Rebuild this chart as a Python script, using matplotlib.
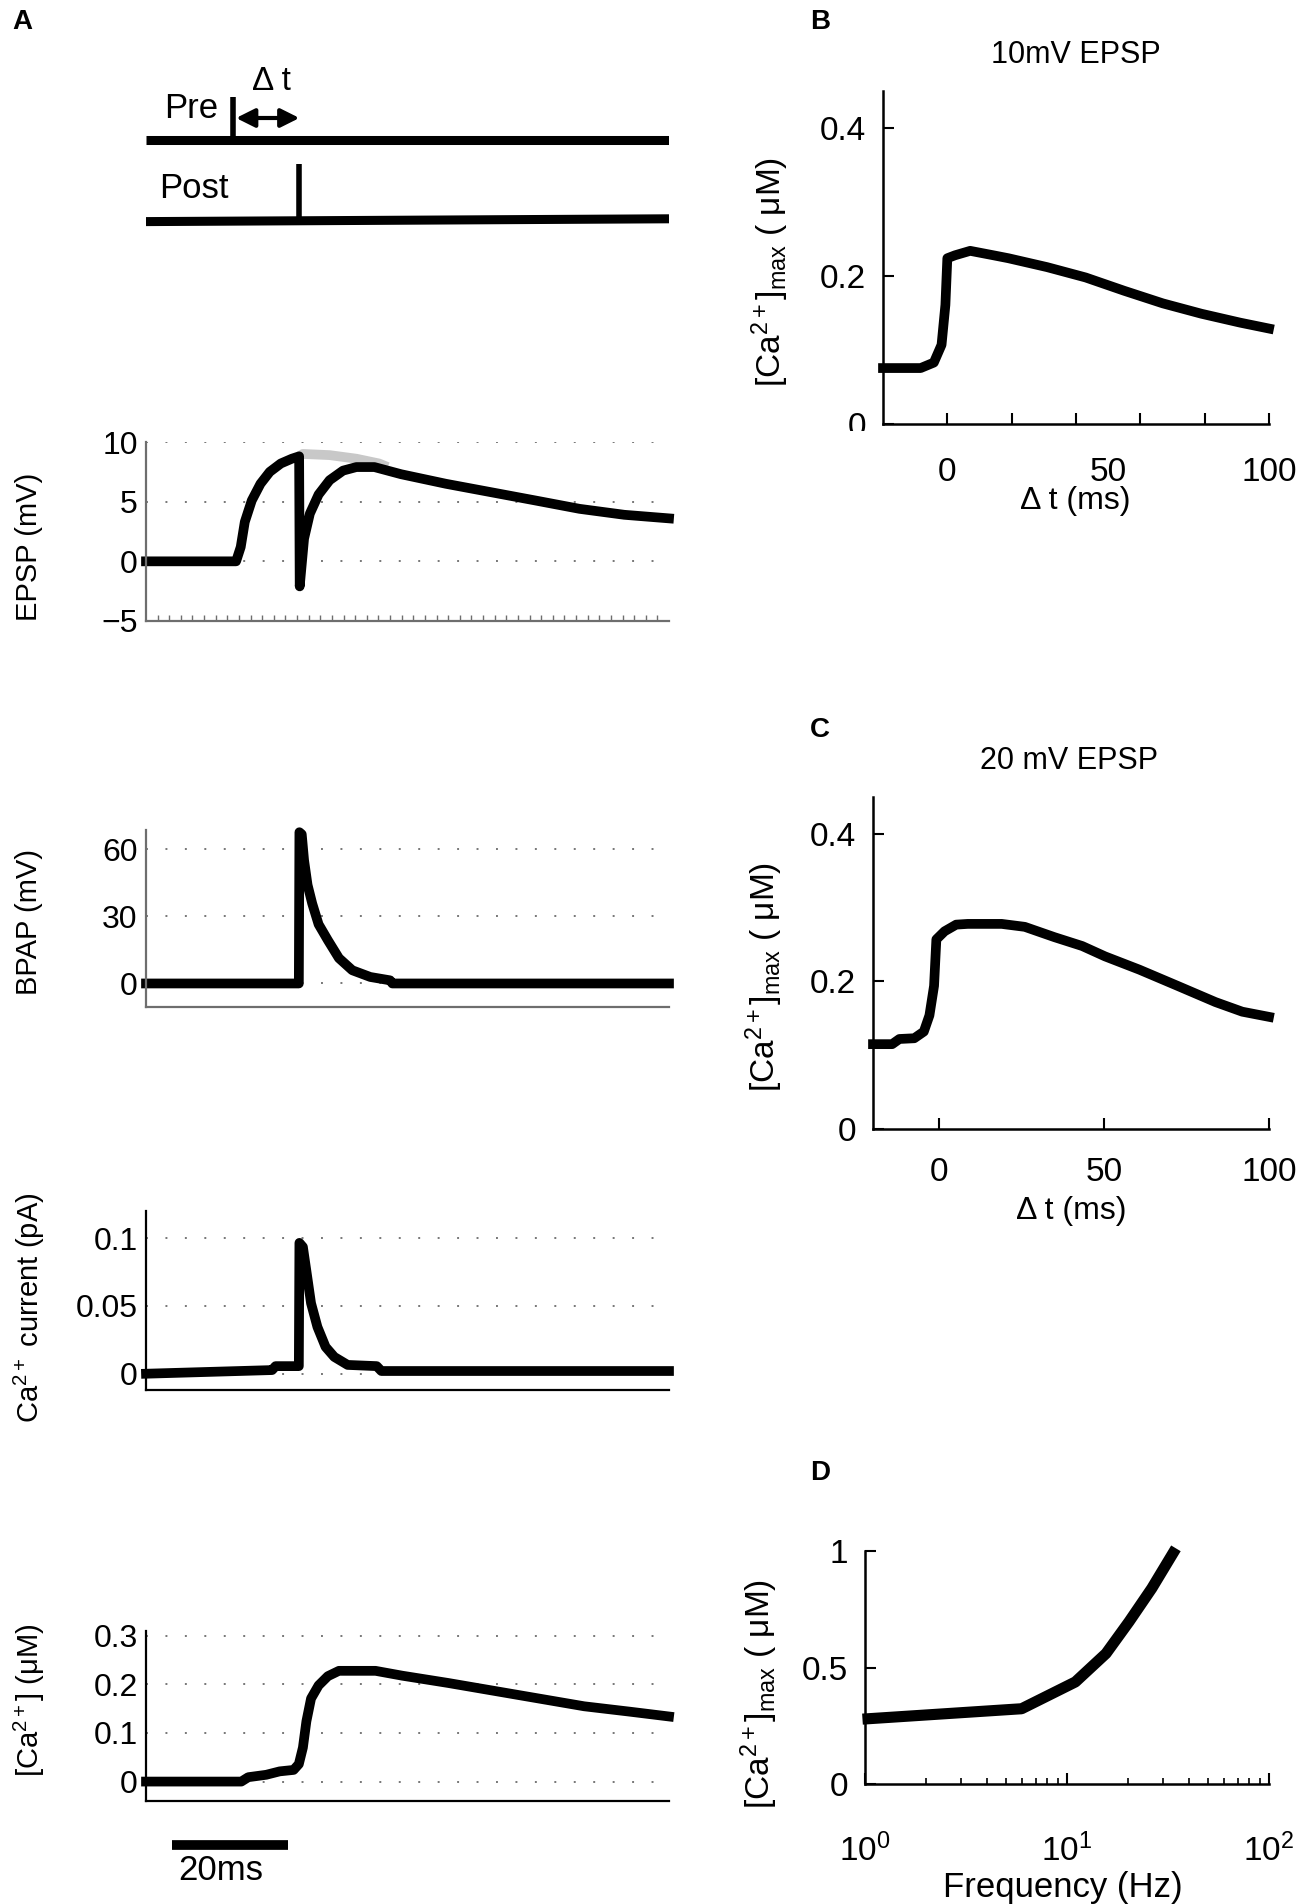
import matplotlib
matplotlib.use('Agg')
import matplotlib.pyplot as plt
from matplotlib.ticker import FixedLocator, FixedFormatter, NullFormatter, LogLocator
from matplotlib.transforms import Bbox, TransformedBbox

plt.rcParams['font.family'] = ['Liberation Sans', 'DejaVu Sans']
plt.rcParams['mathtext.fontset'] = 'custom'
plt.rcParams['mathtext.rm'] = 'Liberation Sans'
plt.rcParams['mathtext.it'] = 'Liberation Sans:italic'
plt.rcParams['mathtext.bf'] = 'Liberation Sans:bold'

# ---- data ----
# panel A: spike times (ms)
pre_t = 15.0
post_t = 26.4

# EPSP with BPAP (black) and without (grey)
epsp_t = [0, 15.5, 16.3, 17.0, 18.2, 19.7, 21.3, 23.2, 25.1, 26.35, 26.45, 27.2, 28.2,
          29.7, 31.6, 33.9, 36.2, 39.3, 43.9, 51.6, 59.3, 67.0, 74.6, 82.3, 90]
epsp_v = [0, 0, 1.2, 3.3, 5.1, 6.5, 7.5, 8.2, 8.6, 8.8, -2.1, 1.9, 4.0,
          5.6, 6.8, 7.6, 7.9, 7.9, 7.3, 6.5, 5.8, 5.1, 4.4, 3.9, 3.6]
epsp_nobp_t = [26.35, 27.0, 31.6, 36.2, 40.1, 41.6]
epsp_nobp_v = [8.8, 9.0, 8.9, 8.6, 8.2, 7.9]

bpap_t = [0, 26.3, 26.4, 26.8, 27.2, 27.8, 28.6, 29.7, 31.3, 33.2, 35.5, 38.6, 42.0, 42.4, 90]
bpap_v = [0, 0, 67.5, 66.6, 55, 44, 35.7, 26.4, 19.3, 11.3, 5.9, 2.9, 1.4, 0, 0]

icur_t = [0, 21.7, 22.3, 26.3, 26.4, 27.0, 27.6, 28.4, 29.5, 30.9, 32.4, 34.7, 39.7, 40.5, 90]
icur_v = [0, 0.0027, 0.0056, 0.0056, 0.0965, 0.0935, 0.0758, 0.052, 0.0345, 0.0198,
          0.0124, 0.0065, 0.0056, 0.002, 0.002]

ca_t = [0, 16.4, 17.6, 20.7, 23.0, 25.4, 26.3, 27.0, 27.6, 28.4, 29.7, 31.3, 33.2,
        39.5, 44.1, 52.0, 59.8, 67.6, 75.4, 83.2, 90]
ca_v = [0, 0, 0.009, 0.014, 0.021, 0.024, 0.036, 0.070, 0.124, 0.171, 0.198, 0.217, 0.228,
        0.228, 0.218, 0.203, 0.187, 0.171, 0.155, 0.144, 0.134]

# panel B: 10 mV EPSP
b_dt = [-20, -8.3, -4.2, -1.8, -0.6, 0, 2.4, 7.1, 14.3, 19, 31, 43, 55, 67, 79, 91, 100]
b_ca = [0.0756, 0.0756, 0.083, 0.107, 0.161, 0.224, 0.228, 0.234, 0.228, 0.224,
        0.212, 0.198, 0.180, 0.163, 0.149, 0.137, 0.129]

# panel C: 20 mV EPSP
c_dt = [-20, -14.2, -12, -7.5, -4.6, -2.9, -1.5, -0.8, 1.7, 5.2, 8.7, 19, 26, 35,
        43.4, 50.3, 60.7, 72.3, 83.8, 91.9, 100]
c_ca = [0.115, 0.115, 0.122, 0.123, 0.132, 0.154, 0.194, 0.257, 0.268, 0.277, 0.278,
        0.278, 0.274, 0.260, 0.248, 0.234, 0.216, 0.194, 0.172, 0.159, 0.152]

# panel D: frequency dependence
d_freq = [1.035, 5.96, 11.0, 15.6, 20.3, 26.3, 33.5]
d_ca = [0.280, 0.323, 0.438, 0.560, 0.697, 0.840, 0.991]

W, H = 1299, 1904
fig = plt.figure(figsize=(W / 100, H / 100), dpi=100)


def add_ax(x0, y0, x1, y1):
    # box given in pixels, origin top-left
    return fig.add_axes([x0 / W, 1 - y1 / H, (x1 - x0) / W, (y1 - y0) / H])


def ftext(x, y, s, **kw):
    return fig.text(x / W, 1 - y / H, s, **kw)


LW = 7
TICKFS = 23
RFS = 24
LABFS = 21
GREY_SPINE = '#6e6e6e'


def trace_axes(box, ylim, yticks, ylabels, spine_col):
    ax = add_ax(*box)
    ax.set_xlim(0, 90)
    ax.set_ylim(*ylim)
    for s in ['top', 'right']:
        ax.spines[s].set_visible(False)
    for s in ['left', 'bottom']:
        ax.spines[s].set_color(spine_col)
        ax.spines[s].set_linewidth(1.6)
    ax.set_yticks(yticks)
    ax.set_yticklabels(ylabels)
    ax.set_xticks([])
    ax.tick_params(axis='y', length=0, pad=6, labelsize=TICKFS)
    ax.yaxis.grid(True, linestyle=(0, (1, 9)), color='#777777', lw=1.4)
    ax.set_axisbelow(True)
    return ax


# ---- A: stimulation protocol ----
ax_t = add_ax(146, 90, 669, 230)
ax_t.set_xlim(0, 90)
ax_t.set_ylim(0, 1)
ax_t.axis('off')
ax_t.plot([0, 90], [0.643, 0.643], color='k', lw=6.5, solid_capstyle='butt')
ax_t.plot([pre_t, pre_t], [0.643, 0.95], color='k', lw=4, solid_capstyle='butt')
ax_t.plot([0, 90], [0.06, 0.08], color='k', lw=6.5, solid_capstyle='butt')
ax_t.plot([post_t, post_t], [0.07, 0.47], color='k', lw=4, solid_capstyle='butt')
ax_t.annotate('', xy=(post_t, 0.80), xytext=(pre_t + 0.5, 0.80),
              arrowprops=dict(arrowstyle='<|-|>', color='k', lw=3, mutation_scale=28,
                              shrinkA=0, shrinkB=0))
ax_t.text(7.7, 0.87, 'Pre', fontsize=25, ha='center', va='center')
ax_t.text(21.5, 1.06, 'Δ t', fontsize=24, ha='center', va='center', clip_on=False)
ax_t.text(8.3, 0.30, 'Post', fontsize=25, ha='center', va='center')

# EPSP
ax1 = trace_axes((146, 442, 669, 621), (-5, 10), [-5, 0, 5, 10],
                 ['\u22125', '0', '5', '10'], GREY_SPINE)
ax1.xaxis.set_minor_locator(FixedLocator(list(range(2, 90, 2))))
ax1.tick_params(axis='x', which='minor', direction='in', length=4, width=1, color=GREY_SPINE)
ax1.plot(epsp_nobp_t, epsp_nobp_v, color='#c8c8c8', lw=LW, solid_capstyle='butt')
ax1.plot(epsp_t, epsp_v, color='k', lw=LW, clip_on=False)

# BPAP
ax2 = trace_axes((146, 830, 669, 1007), (-10.5, 68.5), [0, 30, 60], ['0', '30', '60'], GREY_SPINE)
ax2.plot(bpap_t, bpap_v, color='k', lw=LW, clip_on=False)

# Ca current
ax3 = trace_axes((146, 1211, 669, 1390), (-0.012, 0.12), [0, 0.05, 0.1],
                 ['0', '0.05', '0.1'], 'k')
ax3.plot(icur_t, icur_v, color='k', lw=LW, clip_on=False)

# Ca concentration
ax4 = trace_axes((146, 1631, 669, 1801), (-0.04, 0.31), [0, 0.1, 0.2, 0.3],
                 ['0', '0.1', '0.2', '0.3'], 'k')
ax4.plot(ca_t, ca_v, color='k', lw=LW, clip_on=False)
# 20 ms scale bar
ax4.plot([4.5, 24.5], [-0.26, -0.26], color='k', lw=7, solid_capstyle='butt',
         transform=ax4.get_xaxis_transform(), clip_on=False)
ax4.text(12.9, -0.41, '20ms', fontsize=25, ha='center', va='center',
         transform=ax4.get_xaxis_transform())

ftext(29, 547, 'EPSP (mV)', rotation=90, ha='center', va='center', fontsize=LABFS)
ftext(29, 922, 'BPAP (mV)', rotation=90, ha='center', va='center', fontsize=LABFS)
ftext(29, 1308, 'Ca$^{2+}$ current (pA)', rotation=90, ha='center', va='center', fontsize=LABFS)
ftext(29, 1700, '[Ca$^{2+}$] (μM)', rotation=90, ha='center', va='center', fontsize=LABFS)


# ---- B, C, D ----
def right_axes(box):
    ax = add_ax(*box)
    for s in ['top', 'right']:
        ax.spines[s].set_visible(False)
    for s in ['left', 'bottom']:
        ax.spines[s].set_linewidth(1.8)
    ax.tick_params(which='both', direction='in', labelsize=RFS)
    ax.tick_params(which='major', length=8, width=1.5)
    return ax


ylab = '[Ca$^{2+}$]$_{\\mathrm{max}}$ ( μM)'

axB = right_axes((883, 91, 1269, 424))
axB.plot(b_dt, b_ca, color='k', lw=LW, clip_on=False)
axB.set_xlim(-20, 100)
axB.set_ylim(0, 0.45)
axB.set_yticks([0, 0.2, 0.4])
axB.set_yticklabels(['0', '0.2', '0.4'])
axB.set_xticks([0, 20, 40, 60, 80, 100])
axB.xaxis.set_major_formatter(NullFormatter())
axB.xaxis.remove_overlapping_locs = False
axB.xaxis.set_minor_locator(FixedLocator([0, 50, 100]))
axB.xaxis.set_minor_formatter(FixedFormatter(['0', '50', '100']))
axB.tick_params(axis='x', which='minor', length=0, pad=24, labelsize=RFS)
axB.tick_params(axis='y', pad=12)
# the "0" label is cut off at its lower part in the original
zero_lab = axB.get_yticklabels()[0]
zero_lab.set_clip_box(TransformedBbox(Bbox([[0, 1 - 431 / H], [1, 1]]), fig.transFigure))
zero_lab.set_clip_on(True)

axC = right_axes((873, 797, 1269, 1129))
axC.plot(c_dt, c_ca, color='k', lw=LW, clip_on=False)
axC.set_xlim(-20, 100)
axC.set_ylim(0, 0.45)
axC.set_yticks([0, 0.2, 0.4])
axC.set_yticklabels(['0', '0.2', '0.4'])
axC.set_xticks([0, 50, 100])
axC.tick_params(axis='x', pad=20)
axC.tick_params(axis='y', pad=12)

axD = right_axes((865, 1551, 1269, 1784))
axD.plot(d_freq, d_ca, color='k', lw=8, clip_on=False)
axD.set_xscale('log')
axD.set_xlim(1, 100)
axD.set_ylim(0, 1)
axD.set_yticks([0, 0.5, 1])
axD.set_yticklabels(['0', '0.5', '1'])
axD.xaxis.set_major_locator(LogLocator(base=10, numticks=5))
axD.tick_params(axis='x', which='minor', length=4, width=1.2)
axD.tick_params(axis='x', pad=36)
axD.tick_params(axis='y', pad=12)

ftext(1076, 55, '10mV EPSP', ha='center', va='center', fontsize=22)
ftext(1069, 761, '20 mV EPSP', ha='center', va='center', fontsize=22)
ftext(1075, 501, 'Δ t (ms)', ha='center', va='center', fontsize=23)
ftext(1071, 1211, 'Δ t (ms)', ha='center', va='center', fontsize=23)
ftext(1063, 1887, 'Frequency (Hz)', ha='center', va='center', fontsize=25)
ftext(770, 272, ylab, rotation=90, ha='center', va='center', fontsize=24)
ftext(764, 977, ylab, rotation=90, ha='center', va='center', fontsize=24)
ftext(759, 1694, ylab, rotation=90, ha='center', va='center', fontsize=24)

# panel letters
for lab, x, y in [('A', 22, 22), ('B', 820, 22), ('C', 820, 730), ('D', 820, 1473)]:
    ftext(x, y, lab, ha='center', va='center', fontsize=20, fontweight='bold')

fig.savefig('out.png', dpi=100)
